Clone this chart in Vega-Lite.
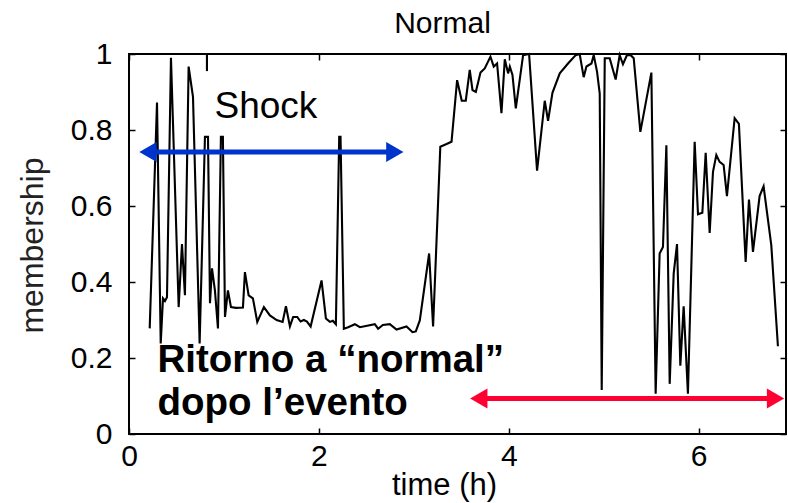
{
  "$schema": "https://vega.github.io/schema/vega-lite/v6.json",
  "width": 657,
  "height": 380,
  "autosize": {"type": "none"},
  "padding": {"left": 129, "top": 54, "right": 2, "bottom": 69},
  "background": "white",
  "config": {
    "view": {"stroke": "black", "strokeWidth": 2},
    "font": "Liberation Sans",
    "axis": {
      "grid": false,
      "domain": false,
      "tickColor": "black",
      "tickWidth": 1.5,
      "tickSize": -6,
      "labelFont": "Liberation Sans",
      "labelFontSize": 30,
      "labelColor": "black",
      "titleFont": "Liberation Sans",
      "titleFontWeight": "normal",
      "titleColor": "black"
    }
  },
  "title": {
    "text": "Normal",
    "font": "Liberation Sans",
    "fontSize": 30,
    "fontWeight": "normal",
    "color": "black",
    "anchor": "middle",
    "baseline": "alphabetic",
    "dx": -15,
    "offset": -24
  },
  "datasets": {
    "series": [
      {"t": 0.218, "m": 0.278, "s": "main"},
      {"t": 0.295, "m": 0.872, "s": "main"},
      {"t": 0.334, "m": 0.238, "s": "main"},
      {"t": 0.358, "m": 0.357, "s": "main"},
      {"t": 0.379, "m": 0.35, "s": "main"},
      {"t": 0.4, "m": 0.36, "s": "main"},
      {"t": 0.442, "m": 0.99, "s": "main"},
      {"t": 0.523, "m": 0.334, "s": "main"},
      {"t": 0.558, "m": 0.5, "s": "main"},
      {"t": 0.589, "m": 0.365, "s": "main"},
      {"t": 0.628, "m": 0.967, "s": "main"},
      {"t": 0.674, "m": 0.887, "s": "main"},
      {"t": 0.744, "m": 0.238, "s": "main"},
      {"t": 0.8, "m": 0.782, "s": "main"},
      {"t": 0.832, "m": 0.782, "s": "main"},
      {"t": 0.853, "m": 0.344, "s": "main"},
      {"t": 0.874, "m": 0.436, "s": "main"},
      {"t": 0.905, "m": 0.378, "s": "main"},
      {"t": 0.937, "m": 0.278, "s": "main"},
      {"t": 0.968, "m": 0.782, "s": "main"},
      {"t": 0.989, "m": 0.782, "s": "main"},
      {"t": 1.011, "m": 0.308, "s": "main"},
      {"t": 1.042, "m": 0.378, "s": "main"},
      {"t": 1.074, "m": 0.334, "s": "main"},
      {"t": 1.126, "m": 0.332, "s": "main"},
      {"t": 1.2, "m": 0.333, "s": "main"},
      {"t": 1.221, "m": 0.426, "s": "main"},
      {"t": 1.26, "m": 0.365, "s": "main"},
      {"t": 1.305, "m": 0.357, "s": "main"},
      {"t": 1.351, "m": 0.295, "s": "main"},
      {"t": 1.421, "m": 0.334, "s": "main"},
      {"t": 1.484, "m": 0.312, "s": "main"},
      {"t": 1.555, "m": 0.3, "s": "main"},
      {"t": 1.618, "m": 0.295, "s": "main"},
      {"t": 1.653, "m": 0.336, "s": "main"},
      {"t": 1.695, "m": 0.283, "s": "main"},
      {"t": 1.729, "m": 0.308, "s": "main"},
      {"t": 1.772, "m": 0.308, "s": "main"},
      {"t": 1.807, "m": 0.296, "s": "main"},
      {"t": 1.842, "m": 0.3, "s": "main"},
      {"t": 1.874, "m": 0.296, "s": "main"},
      {"t": 1.913, "m": 0.283, "s": "main"},
      {"t": 2.028, "m": 0.404, "s": "main"},
      {"t": 2.074, "m": 0.304, "s": "main"},
      {"t": 2.116, "m": 0.295, "s": "main"},
      {"t": 2.147, "m": 0.298, "s": "main"},
      {"t": 2.179, "m": 0.289, "s": "main"},
      {"t": 2.214, "m": 0.782, "s": "main"},
      {"t": 2.228, "m": 0.782, "s": "main"},
      {"t": 2.263, "m": 0.277, "s": "main"},
      {"t": 2.308, "m": 0.281, "s": "main"},
      {"t": 2.379, "m": 0.289, "s": "main"},
      {"t": 2.432, "m": 0.281, "s": "main"},
      {"t": 2.589, "m": 0.289, "s": "main"},
      {"t": 2.624, "m": 0.277, "s": "main"},
      {"t": 2.674, "m": 0.287, "s": "main"},
      {"t": 2.747, "m": 0.289, "s": "main"},
      {"t": 2.818, "m": 0.275, "s": "main"},
      {"t": 2.923, "m": 0.283, "s": "main"},
      {"t": 2.986, "m": 0.268, "s": "main"},
      {"t": 3.021, "m": 0.27, "s": "main"},
      {"t": 3.063, "m": 0.299, "s": "main"},
      {"t": 3.161, "m": 0.475, "s": "main"},
      {"t": 3.203, "m": 0.283, "s": "main"},
      {"t": 3.279, "m": 0.756, "s": "main"},
      {"t": 3.345, "m": 0.763, "s": "main"},
      {"t": 3.397, "m": 0.769, "s": "main"},
      {"t": 3.456, "m": 0.931, "s": "main"},
      {"t": 3.505, "m": 0.877, "s": "main"},
      {"t": 3.547, "m": 0.877, "s": "main"},
      {"t": 3.589, "m": 0.958, "s": "main"},
      {"t": 3.618, "m": 0.905, "s": "main"},
      {"t": 3.653, "m": 0.9, "s": "main"},
      {"t": 3.702, "m": 0.951, "s": "main"},
      {"t": 3.747, "m": 0.962, "s": "main"},
      {"t": 3.807, "m": 0.993, "s": "main"},
      {"t": 3.842, "m": 0.967, "s": "main"},
      {"t": 3.877, "m": 0.975, "s": "main"},
      {"t": 3.923, "m": 0.844, "s": "main"},
      {"t": 3.958, "m": 0.986, "s": "main"},
      {"t": 3.993, "m": 0.949, "s": "main"},
      {"t": 4.011, "m": 0.967, "s": "main"},
      {"t": 4.039, "m": 0.945, "s": "main"},
      {"t": 4.074, "m": 0.857, "s": "main"},
      {"t": 4.151, "m": 0.997, "s": "main"},
      {"t": 4.214, "m": 1.0, "s": "main"},
      {"t": 4.298, "m": 0.693, "s": "main"},
      {"t": 4.379, "m": 0.877, "s": "main"},
      {"t": 4.414, "m": 0.824, "s": "main"},
      {"t": 4.46, "m": 0.898, "s": "main"},
      {"t": 4.537, "m": 0.949, "s": "main"},
      {"t": 4.624, "m": 0.975, "s": "main"},
      {"t": 4.705, "m": 0.997, "s": "main"},
      {"t": 4.747, "m": 1.0, "s": "main"},
      {"t": 4.789, "m": 0.939, "s": "main"},
      {"t": 4.818, "m": 0.967, "s": "main"},
      {"t": 4.871, "m": 0.975, "s": "main"},
      {"t": 4.895, "m": 0.997, "s": "main"},
      {"t": 4.93, "m": 0.953, "s": "main"},
      {"t": 4.958, "m": 0.896, "s": "main"},
      {"t": 4.979, "m": 0.116, "s": "main"},
      {"t": 5.011, "m": 0.989, "s": "main"},
      {"t": 5.063, "m": 0.989, "s": "main"},
      {"t": 5.126, "m": 0.933, "s": "main"},
      {"t": 5.168, "m": 0.997, "s": "main"},
      {"t": 5.203, "m": 0.973, "s": "main"},
      {"t": 5.245, "m": 0.997, "s": "main"},
      {"t": 5.284, "m": 0.997, "s": "main"},
      {"t": 5.316, "m": 0.989, "s": "main"},
      {"t": 5.386, "m": 0.795, "s": "main"},
      {"t": 5.502, "m": 0.951, "s": "main"},
      {"t": 5.547, "m": 0.106, "s": "main"},
      {"t": 5.589, "m": 0.475, "s": "main"},
      {"t": 5.624, "m": 0.492, "s": "main"},
      {"t": 5.66, "m": 0.76, "s": "main"},
      {"t": 5.695, "m": 0.132, "s": "main"},
      {"t": 5.737, "m": 0.422, "s": "main"},
      {"t": 5.772, "m": 0.5, "s": "main"},
      {"t": 5.807, "m": 0.18, "s": "main"},
      {"t": 5.842, "m": 0.336, "s": "main"},
      {"t": 5.887, "m": 0.106, "s": "main"},
      {"t": 5.958, "m": 0.769, "s": "main"},
      {"t": 5.993, "m": 0.578, "s": "main"},
      {"t": 6.039, "m": 0.582, "s": "main"},
      {"t": 6.074, "m": 0.74, "s": "main"},
      {"t": 6.116, "m": 0.529, "s": "main"},
      {"t": 6.151, "m": 0.69, "s": "main"},
      {"t": 6.186, "m": 0.734, "s": "main"},
      {"t": 6.221, "m": 0.716, "s": "main"},
      {"t": 6.263, "m": 0.708, "s": "main"},
      {"t": 6.298, "m": 0.626, "s": "main"},
      {"t": 6.379, "m": 0.831, "s": "main"},
      {"t": 6.424, "m": 0.816, "s": "main"},
      {"t": 6.495, "m": 0.453, "s": "main"},
      {"t": 6.53, "m": 0.617, "s": "main"},
      {"t": 6.572, "m": 0.479, "s": "main"},
      {"t": 6.642, "m": 0.626, "s": "main"},
      {"t": 6.684, "m": 0.652, "s": "main"},
      {"t": 6.765, "m": 0.497, "s": "main"},
      {"t": 6.835, "m": 0.231, "s": "main"},
      {"t": 0.821, "m": 1.0, "s": "stub"},
      {"t": 0.821, "m": 0.955, "s": "stub"}
    ],
    "arrows": [
      {"x1": 0.2, "x2": 2.8, "y": 0.742, "phase": "shock"},
      {"x1": 3.684, "x2": 6.81, "y": 0.0935, "phase": "recovery"}
    ],
    "heads": [
      {"x": 0.2, "y": 0.742, "dir": "left", "phase": "shock"},
      {"x": 2.8, "y": 0.742, "dir": "right", "phase": "shock"},
      {"x": 3.684, "y": 0.0935, "dir": "left", "phase": "recovery"},
      {"x": 6.81, "y": 0.0935, "dir": "right", "phase": "recovery"}
    ],
    "shock": [
      {"x": 0.9, "y": 0.831, "label": "Shock"}
    ],
    "notes": [
      {"x": 0.3, "y": 0.163, "label": "Ritorno a “normal”"},
      {"x": 0.3, "y": 0.049, "label": "dopo l’evento"}
    ]
  },
  "layer": [
    {
      "data": {"name": "series"},
      "mark": {"type": "line", "color": "black", "strokeWidth": 2.1, "strokeJoin": "miter"},
      "encoding": {
        "x": {
          "field": "t", "type": "quantitative",
          "scale": {"domain": [0, 6.92], "nice": false, "zero": false},
          "axis": {
            "orient": "bottom", "values": [0, 2, 4, 6], "format": "~g",
            "labelFlush": false, "labelPadding": 13,
            "title": "time (h)", "titleFontSize": 31,
            "titleX": 315, "titleY": 51, "titleBaseline": "middle", "titleAlign": "center"
          }
        },
        "y": {
          "field": "m", "type": "quantitative",
          "scale": {"domain": [0, 1], "nice": false},
          "axis": {
            "orient": "left", "values": [0, 0.2, 0.4, 0.6, 0.8, 1], "format": "~g",
            "labelFlush": false, "labelPadding": 23,
            "title": "membership", "titleFontSize": 32, "titleColor": "#222222",
            "titleAngle": -90, "titleX": -97, "titleY": 191,
            "titleBaseline": "middle", "titleAlign": "center"
          }
        },
        "detail": {"field": "s", "type": "nominal"}
      }
    },
    {
      "data": {"name": "arrows"},
      "mark": {"type": "rule", "strokeWidth": 5, "strokeCap": "butt"},
      "encoding": {
        "x": {
          "field": "x1", "type": "quantitative",
          "axis": {"orient": "top", "values": [0, 2, 4, 6], "labels": false, "title": null}
        },
        "x2": {"field": "x2"},
        "y": {
          "field": "y", "type": "quantitative",
          "axis": {"orient": "right", "values": [0, 0.2, 0.4, 0.6, 0.8, 1], "labels": false, "title": null}
        },
        "color": {
          "field": "phase", "type": "nominal",
          "scale": {"domain": ["shock", "recovery"], "range": ["#0033cc", "#ff0033"]},
          "legend": null
        }
      }
    },
    {
      "data": {"name": "heads"},
      "mark": {"type": "point", "filled": true, "opacity": 1, "size": 400, "strokeWidth": 0},
      "encoding": {
        "x": {"field": "x", "type": "quantitative", "axis": null},
        "y": {"field": "y", "type": "quantitative", "axis": null},
        "shape": {
          "field": "dir", "type": "nominal",
          "scale": {"domain": ["left", "right"], "range": ["triangle-left", "triangle-right"]},
          "legend": null
        },
        "color": {"field": "phase", "type": "nominal", "legend": null}
      }
    },
    {
      "data": {"name": "shock"},
      "mark": {"type": "text", "font": "Liberation Sans", "fontSize": 37, "align": "left", "baseline": "alphabetic", "color": "black"},
      "encoding": {
        "x": {"field": "x", "type": "quantitative", "axis": null},
        "y": {"field": "y", "type": "quantitative", "axis": null},
        "text": {"field": "label"}
      }
    },
    {
      "data": {"name": "notes"},
      "mark": {"type": "text", "font": "Liberation Sans", "fontSize": 38.5, "fontWeight": "bold", "align": "left", "baseline": "alphabetic", "color": "black"},
      "encoding": {
        "x": {"field": "x", "type": "quantitative", "axis": null},
        "y": {"field": "y", "type": "quantitative", "axis": null},
        "text": {"field": "label"}
      }
    }
  ],
  "resolve": {"axis": {"x": "independent", "y": "independent"}}
}
